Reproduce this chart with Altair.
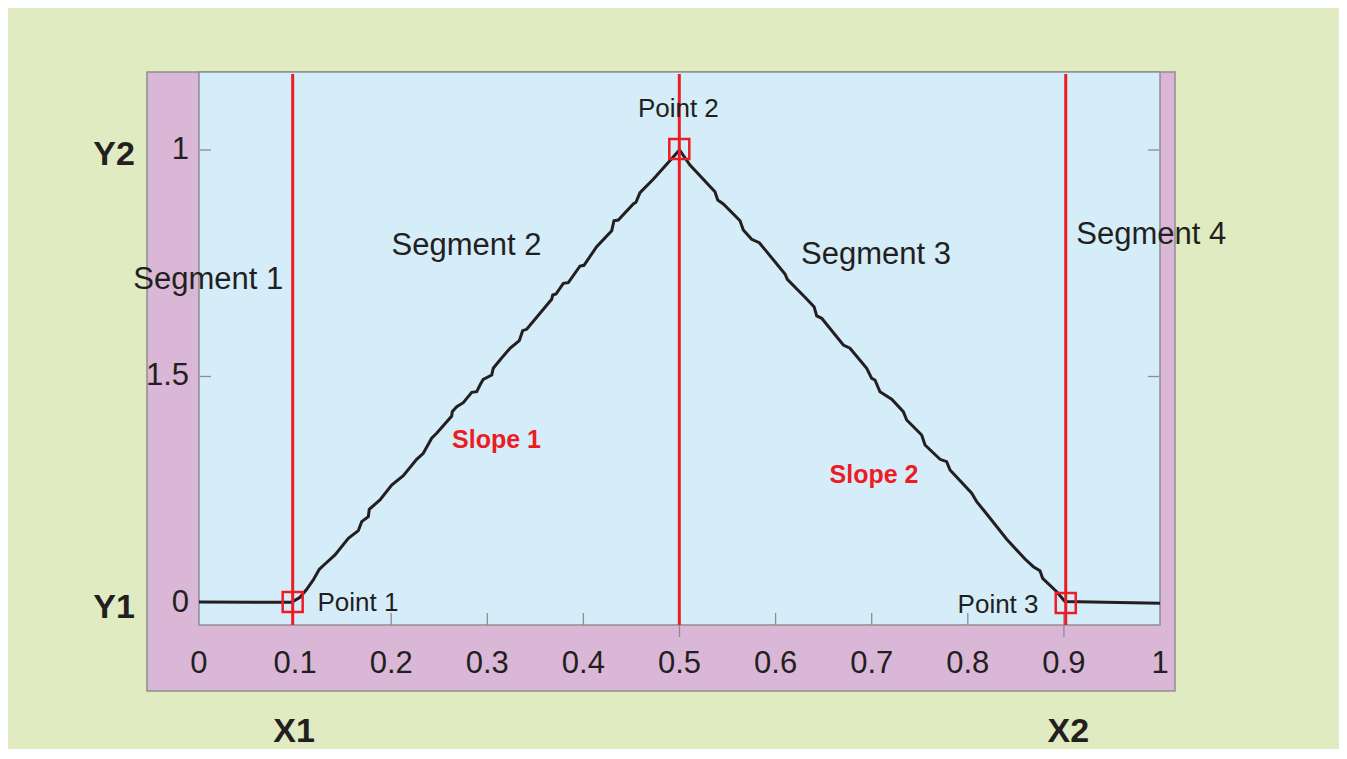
import altair as alt
import pandas as pd

# ---------------- data ----------------
line_x = [0.0, 0.0965, 0.1051, 0.1121, 0.1189, 0.1252, 0.1311, 0.1415, 0.1554, 0.1658,
          0.1693, 0.1762, 0.1772, 0.1883, 0.2005, 0.2126, 0.2265, 0.2334, 0.2421, 0.2473,
          0.2630, 0.2635, 0.2682, 0.2750, 0.2838, 0.2890, 0.2924, 0.2958, 0.3046, 0.3062,
          0.3132, 0.3236, 0.3333, 0.3368, 0.3410, 0.3670, 0.3681, 0.3715, 0.3791, 0.3843,
          0.3965, 0.4006, 0.4138, 0.4295, 0.4318, 0.4363, 0.4519, 0.4547, 0.4589, 0.4727,
          0.5000, 0.5109, 0.5369, 0.5398, 0.5456, 0.5630, 0.5664, 0.5751, 0.5830, 0.6098,
          0.6122, 0.6306, 0.6400, 0.6428, 0.6480, 0.6705, 0.6774, 0.6948, 0.7000, 0.7034,
          0.7086, 0.7208, 0.7329, 0.7364, 0.7520, 0.7555, 0.7711, 0.7780, 0.7815, 0.8041,
          0.8093, 0.8197, 0.8405, 0.8595, 0.8682, 0.8751, 0.8779, 0.8925, 0.9011, 1.0]
line_y = [0.0022, 0.0015, 0.0126, 0.0302, 0.0508, 0.0744, 0.0861, 0.1060, 0.1428, 0.1596,
          0.1795, 0.1905, 0.2068, 0.2274, 0.2605, 0.2810, 0.3172, 0.3305, 0.3636, 0.3746,
          0.4128, 0.4223, 0.4333, 0.4422, 0.4651, 0.4664, 0.4812, 0.4938, 0.5033, 0.5181,
          0.5364, 0.5623, 0.5790, 0.6011, 0.6042, 0.6704, 0.6799, 0.6821, 0.7057, 0.7071,
          0.7439, 0.7455, 0.7865, 0.8219, 0.8439, 0.8455, 0.8808, 0.8845, 0.9057, 0.9353,
          1.0000, 0.9669, 0.9079, 0.8896, 0.8808, 0.8439, 0.8234, 0.8029, 0.7954, 0.7263,
          0.7146, 0.6748, 0.6541, 0.6336, 0.6285, 0.5695, 0.5623, 0.5181, 0.4960, 0.4923,
          0.4664, 0.4497, 0.4223, 0.4040, 0.3709, 0.3488, 0.3172, 0.3119, 0.2936, 0.2422,
          0.2236, 0.1965, 0.1406, 0.0971, 0.0801, 0.0713, 0.0545, 0.0249, 0.0033, -0.0007]

divider_x = [0.0975, 0.4998, 0.9019]
marker_x = [0.0975, 0.4998, 0.9019]
marker_y = [0.002, 1.002, 0.0]

x_tick_values = [0, 0.1, 0.2, 0.3, 0.4, 0.5, 0.6, 0.7, 0.8, 0.9, 1]
x_tick_labels = ["0", "0.1", "0.2", "0.3", "0.4", "0.5", "0.6", "0.7", "0.8", "0.9", "1"]
y_tick_values = [0, 0.5, 1]
y_tick_labels = ["0", "1.5", "1"]

x_inner_ticks = [0.2, 0.3, 0.4, 0.6, 0.7, 0.8]
x_cross_ticks = [0.5, 0.9]
y_side_ticks = [0.5, 1]

segment_labels = ["Segment 1", "Segment 2", "Segment 3", "Segment 4"]
segment_x = [0.0097, 0.2783, 0.7045, 0.9909]
segment_y = [0.6932, 0.7682, 0.7483, 0.7918]

point_labels = ["Point 1", "Point 2", "Point 3"]
point_label_x = [0.1233, 0.4988, 0.8736]
point_label_y = [-0.0170, 1.0722, -0.0214]
point_label_align = ["left", "center", "right"]

slope_labels = ["Slope 1", "Slope 2"]
slope_x = [0.3096, 0.7024]
slope_y = [0.3422, 0.2642]

corner_labels = ["X1", "X2", "Y1", "Y2"]
corner_x = [0.0989, 0.9046, -0.0884, -0.0884]
corner_y = [-0.3062, -0.3062, -0.0338, 0.9669]

x_domain = [-0.0541, 1.0156]
y_domain = [-0.1943, 1.1722]
plot_x_range = [0, 1]
plot_y_range = [-0.0486, 1.1722]

# ---------------- styles ----------------
FONT = "Liberation Sans"
DARK = "#231f20"
RED = "#ed1c24"
GRAY = "#8e8e8e"
GREEN_BG = "#e1ebc2"
PURPLE = "#dab7d6"
BLUE = "#d5ecf9"

xs = alt.Scale(domain=x_domain, nice=False, zero=False)
ys = alt.Scale(domain=y_domain, nice=False, zero=False)


def X(field):
    return alt.X(field, type="quantitative", scale=xs, axis=None, title=None)


def Y(field):
    return alt.Y(field, type="quantitative", scale=ys, axis=None, title=None)


plot_df = pd.DataFrame({"x0": [plot_x_range[0]], "x1": [plot_x_range[1]],
                        "y0": [plot_y_range[0]], "y1": [plot_y_range[1]]})
plot_area = alt.Chart(plot_df).mark_rect(fill=BLUE, stroke=GRAY, strokeWidth=1.5).encode(
    x=X("x0"), x2="x1", y=Y("y0"), y2="y1"
)

# tick labels (drawn as text through the same scales)
x_lab_df = pd.DataFrame({"v": x_tick_values, "label": x_tick_labels})
x_labels = alt.Chart(x_lab_df).mark_text(
    font=FONT, fontSize=31, color=DARK, align="center", baseline="alphabetic"
).encode(x=X("v"), y=alt.value(601), text="label:N")

y_lab_df = pd.DataFrame({"v": y_tick_values, "label": y_tick_labels})
y_labels = alt.Chart(y_lab_df).mark_text(
    font=FONT, fontSize=31, color=DARK, align="right", baseline="middle"
).encode(y=Y("v"), x=alt.value(42), text="label:N")

inner_ticks = alt.Chart(pd.DataFrame({"x": x_inner_ticks})).mark_rule(
    color=GRAY, strokeWidth=1.3).encode(x=X("x"), y=alt.value(541), y2=alt.value(553))
cross_ticks = alt.Chart(pd.DataFrame({"x": x_cross_ticks})).mark_rule(
    color=GRAY, strokeWidth=1.3).encode(x=X("x"), y=alt.value(540), y2=alt.value(565))
left_ticks = alt.Chart(pd.DataFrame({"y": y_side_ticks})).mark_rule(
    color=GRAY, strokeWidth=1.3).encode(y=Y("y"), x=alt.value(53), x2=alt.value(64))
right_ticks = alt.Chart(pd.DataFrame({"y": y_side_ticks})).mark_rule(
    color=GRAY, strokeWidth=1.3).encode(y=Y("y"), x=alt.value(1001), x2=alt.value(1012))

line_df = pd.DataFrame({"idx": list(range(len(line_x))), "x": line_x, "y": line_y})
curve = alt.Chart(line_df).mark_line(color=DARK, strokeWidth=3).encode(
    x=X("x"), y=Y("y"), order="idx:Q"
)

div_df = pd.DataFrame({"x": divider_x, "yb": [plot_y_range[0]] * len(divider_x)})
dividers = alt.Chart(div_df).mark_rule(color=RED, strokeWidth=3).encode(
    x=X("x"), y=Y("yb"), y2=alt.value(2)
)

markers = alt.Chart(pd.DataFrame({"x": marker_x, "y": marker_y})).mark_point(
    shape="square", filled=False, size=400, strokeWidth=2.5, color=RED, opacity=1
).encode(x=X("x"), y=Y("y"))


def text_layer(texts, txs, tys, **kw):
    df = pd.DataFrame({"label": texts, "x": txs, "y": tys})
    return alt.Chart(df).mark_text(baseline="alphabetic", font=FONT, **kw).encode(
        x=X("x"), y=Y("y"), text="label:N"
    )


seg_text = text_layer(segment_labels, segment_x, segment_y, align="center", fontSize=31, color=DARK)
pt_texts = [
    text_layer([point_labels[i]], [point_label_x[i]], [point_label_y[i]],
               align=point_label_align[i], fontSize=26, color=DARK)
    for i in range(len(point_labels))
]
slope_text = text_layer(slope_labels, slope_x, slope_y, align="center", fontSize=25,
                        fontWeight="bold", color=RED)
corner_text = text_layer(corner_labels, corner_x, corner_y, align="center", fontSize=34,
                         fontWeight="bold", color=DARK)

chart = alt.layer(
    plot_area, inner_ticks, cross_ticks, left_ticks, right_ticks, curve, dividers, markers,
    x_labels, y_labels, seg_text, *pt_texts, slope_text, corner_text
).properties(
    width=1028, height=619,
    padding={"left": 139, "top": 64, "right": 164, "bottom": 58},
    autosize=alt.AutoSizeParams(type="none"),
    background=GREEN_BG,
).configure_view(fill=PURPLE, stroke=GRAY, strokeWidth=1.5)

chart.save("out.html", embed_options={"renderer": "svg", "actions": False})
